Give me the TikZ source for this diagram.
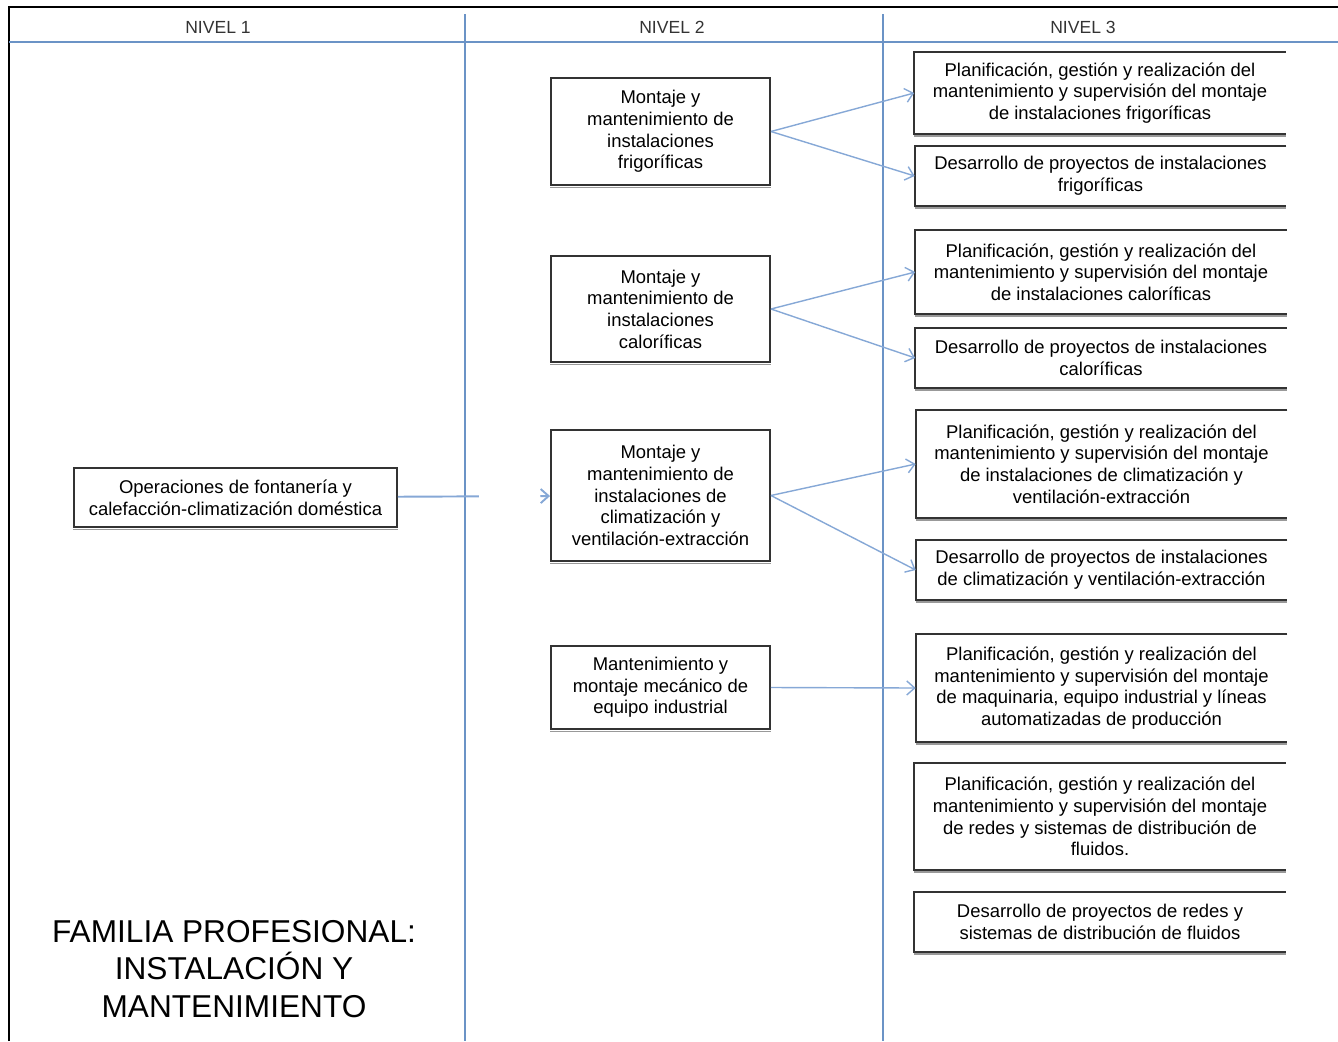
\documentclass[tikz,border=0pt]{standalone}
\usepackage{fontspec}
\setmainfont{Liberation Sans}
\usetikzlibrary{arrows.meta}

\definecolor{rulecol}{HTML}{6B93C6}
\definecolor{linkcol}{HTML}{86A8D6}
\definecolor{edgecol}{HTML}{333333}

\tikzset{
  txt/.style={font=\fontsize{10.5}{12.3}\selectfont, align=center, inner sep=0pt},
  fullbox/.style={txt, draw=edgecol, line width=1.1pt},
  openbox/.style={txt, minimum width=7.42cm},
  boxline/.style={draw=edgecol, line width=1.1pt},
  link/.style={draw=linkcol, line width=0.8pt, -{Straight Barb[length=4.5pt,width=8pt]}},
  lvltitle/.style={font=\fontsize{10}{11}\selectfont, text=black!80}
}

\begin{document}
\begin{tikzpicture}[x=0.02cm, y=-0.02cm]
    \useasboundingbox (0,0) rectangle (1338,1041);

    % frame and columns
    \draw[black, line width=1.4pt] (9,1041) -- (9,7) -- (1338,7);
    \draw[rulecol, line width=1.6pt] (9,42) -- (1338,42);
    \draw[rulecol, line width=1pt] (465,14) -- (465,1041);
    \draw[rulecol, line width=1pt] (883,14) -- (883,1041);

    \node[lvltitle] (h1) at (218,27) {NIVEL 1};
    \node[lvltitle] (h2) at (672,27) {NIVEL 2};
    \node[lvltitle] (h3) at (1083,27) {NIVEL 3};

    % nivel 1
    \node[fullbox, minimum width=6.46cm, minimum height=1.18cm] (l1) at (235.5,497.5)
        {Operaciones de fontanería y\\calefacción-climatización doméstica};

    % nivel 2
    \node[fullbox, minimum width=4.38cm, minimum height=2.14cm] (b1) at (660.5,131.5)
        {Montaje y\\mantenimiento de\\instalaciones\\frigoríficas};
    \node[fullbox, minimum width=4.38cm, minimum height=2.12cm] (b2) at (660.5,309)
        {Montaje y\\mantenimiento de\\instalaciones\\caloríficas};
    \node[fullbox, minimum width=4.38cm, minimum height=2.62cm] (b3) at (660.5,495.5)
        {Montaje y\\mantenimiento de\\instalaciones de\\climatización y\\ventilación-extracción};
    \node[fullbox, minimum width=4.38cm, minimum height=1.66cm] (b4) at (660.5,687.5)
        {Mantenimiento y\\montaje mecánico de\\equipo industrial};

    % nivel 3
    \node[openbox, minimum height=1.64cm] (c1) at (1100,93)
        {Planificación, gestión y realización del\\mantenimiento y supervisión del montaje\\de instalaciones frigoríficas};
    \node[openbox, minimum height=1.2cm] (c2) at (1100.5,176)
        {Desarrollo de proyectos de instalaciones\\frigoríficas};
    \node[openbox, minimum height=1.68cm] (c3) at (1101,272)
        {Planificación, gestión y realización del\\mantenimiento y supervisión del montaje\\de instalaciones caloríficas};
    \node[openbox, minimum height=1.2cm] (c4) at (1101,358)
        {Desarrollo de proyectos de instalaciones\\caloríficas};
    \node[openbox, minimum height=2.16cm] (c5) at (1101.5,464)
        {Planificación, gestión y realización del\\mantenimiento y supervisión del montaje\\de instalaciones de climatización y\\ventilación-extracción};
    \node[openbox, minimum height=1.2cm] (c6) at (1101.5,570)
        {Desarrollo de proyectos de instalaciones\\de climatización y ventilación-extracción};
    \node[openbox, minimum height=2.16cm] (c7) at (1101.5,688)
        {Planificación, gestión y realización del\\mantenimiento y supervisión del montaje\\de maquinaria, equipo industrial y líneas\\automatizadas de producción};
    \node[openbox, minimum height=2.14cm] (c8) at (1100,816.5)
        {Planificación, gestión y realización del\\mantenimiento y supervisión del montaje\\de redes y sistemas de distribución de\\fluidos.};
    \node[openbox, minimum height=1.2cm] (c9) at (1100,922)
        {Desarrollo de proyectos de redes y\\sistemas de distribución de fluidos};

    \foreach \n in {c1,c2,c3,c4,c5,c6,c7,c8,c9}
        \draw[boxline] (\n.north east) -- (\n.north west) -- (\n.south west) -- (\n.south east);

    % shaded bottom edges
    \foreach \n in {l1,b1,b2,b3,b4,c1,c2,c3,c4,c5,c6,c7,c8,c9}
        \draw[gray!80, line width=1pt] ([yshift=-0.9pt]\n.south west) -- ([yshift=-0.9pt]\n.south east);

    % connectors
    \draw[link, line width=1.1pt, dash pattern=on 46pt off 35pt on 20pt off 0pt] (l1) -- (b3);
    \draw[link] (b1.east) -- (c1.west);
    \draw[link] (b1.east) -- (c2.west);
    \draw[link] (b2.east) -- (c3.west);
    \draw[link] (b2.east) -- (c4.west);
    \draw[link] (b3.east) -- (c5.west);
    \draw[link] (b3.east) -- (c6.west);
    \draw[link] (b4.east) -- (c7.west);

    \node[align=center, inner sep=0pt, font=\fontsize{18}{21.3}\selectfont] (fam) at (234,969)
        {FAMILIA PROFESIONAL:\\INSTALACIÓN Y\\MANTENIMIENTO};
\end{tikzpicture}
\end{document}
